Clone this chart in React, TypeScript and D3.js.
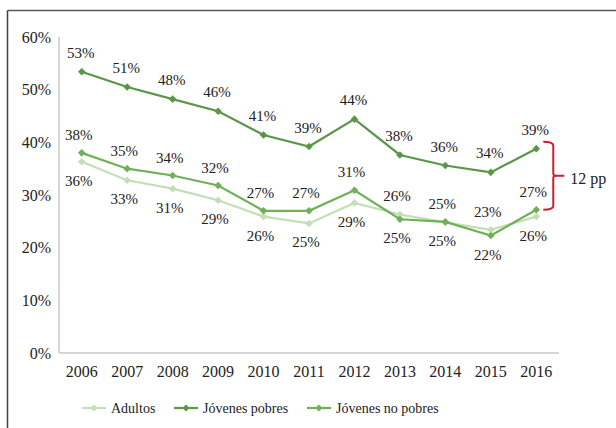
import React from "react";
import { scaleBand, scaleLinear, line } from "d3";

const years = ["2006", "2007", "2008", "2009", "2010", "2011", "2012", "2013", "2014", "2015", "2016"];
const adultos = [36.3, 32.8, 31.2, 29.0, 25.9, 24.6, 28.5, 26.3, 24.8, 23.4, 25.9];
const jovenesPobres = [53.4, 50.5, 48.2, 45.9, 41.4, 39.2, 44.4, 37.6, 35.6, 34.3, 38.8];
const jovenesNoPobres = [38.0, 35.0, 33.7, 31.8, 27.0, 27.0, 30.9, 25.4, 24.9, 22.3, 27.2];
const yTicks = [0, 10, 20, 30, 40, 50, 60];
const gapLabel = "12 pp";

const FONT = "'Liberation Serif', Tinos, 'Times New Roman', 'DejaVu Serif', serif";
const C_LIGHT = "#c3dfb6";
const C_DARK = "#5b9648";
const C_MID = "#70b158";

const series = [
  { name: "Adultos", values: adultos, color: C_LIGHT },
  { name: "Jóvenes pobres", values: jovenesPobres, color: C_DARK },
  { name: "Jóvenes no pobres", values: jovenesNoPobres, color: C_MID },
];

const W = 616;
const H = 428;
const margin = { left: 59, right: 57, top: 37, bottom: 75 };

const x = scaleBand<string>().domain(years).range([margin.left, W - margin.right]);
const y = scaleLinear().domain([0, 60]).range([H - margin.bottom, margin.top]);
const cx = (i: number) => (x(years[i]) ?? 0) + x.bandwidth() / 2;

const diamond = (px: number, py: number, r: number) =>
  `M${px},${py - r}L${px + r},${py}L${px},${py + r}L${px - r},${py}Z`;

export default function App() {
  const path = line<number>()
    .x((_, i) => cx(i))
    .y((d) => y(d));

  // labels for the two lower series: the higher one goes above, the lower one below
  const labelPos = (si: number, i: number) => {
    const v = series[si].values[i];
    if (si === 1) return { dx: -1, dy: -19 };
    const other = si === 0 ? jovenesNoPobres[i] : adultos[i];
    return v > other ? { dx: -3, dy: -18 } : { dx: -3, dy: 19 };
  };

  const last = years.length - 1;
  const bx = cx(last) + 17;
  const top = y(jovenesPobres[last]) - 7;
  const bot = y(jovenesNoPobres[last]);
  const mid = (top + bot) / 2;
  const brace = `M${bx - 10},${top}Q${bx},${top} ${bx},${top + 4}L${bx},${mid - 2}Q${bx},${mid} ${bx + 3},${mid}L${bx + 11},${mid}M${bx + 3},${mid}Q${bx},${mid} ${bx},${mid + 2}L${bx},${bot - 4}Q${bx},${bot} ${bx - 10},${bot}`;

  const legendX = [82, 174, 307];
  const legendY = 408;

  return (
    <svg width={W} height={H} style={{ position: "absolute", left: 0, top: 0, background: "#fff" }}>
      <g fontFamily={FONT}>
      {/* frame */}
      <line x1={7.5} y1={10.5} x2={W} y2={10.5} stroke="#595959" strokeWidth={1.5} />
      <line x1={7.5} y1={10.5} x2={7.5} y2={H} stroke="#404040" strokeWidth={1.5} />

      {/* axes */}
      <line x1={margin.left} y1={y(60)} x2={margin.left} y2={y(0)} stroke="#c8c8c8" strokeWidth={1.5} />
      <line x1={margin.left} y1={y(0)} x2={W - margin.right} y2={y(0)} stroke="#c8c8c8" strokeWidth={1.5} />
      {yTicks.map((t) => (
        <text key={t} x={51} y={y(t)} textAnchor="end" dominantBaseline="central" fontSize={16} fill="#222">
          {t}%
        </text>
      ))}
      {years.map((yr) => (
        <text key={yr} x={(x(yr) ?? 0) + x.bandwidth() / 2} y={371} textAnchor="middle" dominantBaseline="central" fontSize={16} fill="#222">
          {yr}
        </text>
      ))}

      {/* lines and markers */}
      {series.map((s) => (
        <g key={s.name}>
          <path d={path(s.values) ?? ""} fill="none" stroke={s.color} strokeWidth={2.2} />
          {s.values.map((v, i) => (
            <path key={i} d={diamond(cx(i), y(v), 3.8)} fill={s.color} />
          ))}
        </g>
      ))}

      {/* data labels */}
      {series.map((s, si) =>
        s.values.map((v, i) => {
          const p = labelPos(si, i);
          return (
            <text key={`${si}-${i}`} x={cx(i) + p.dx} y={y(v) + p.dy} textAnchor="middle" dominantBaseline="central" fontSize={15} fill="#222">
              {Math.round(v)}%
            </text>
          );
        })
      )}

      {/* gap brace */}
      <path d={brace} fill="none" stroke="#c8202f" strokeWidth={2} />
      <text x={bx + 17} y={mid + 3} dominantBaseline="central" fontSize={16} fill="#222">
        {gapLabel}
      </text>

      {/* legend */}
      {series.map((s, i) => (
        <g key={s.name} transform={`translate(${legendX[i]},${legendY})`}>
          <line x1={0} x2={24} y1={0} y2={0} stroke={s.color} strokeWidth={2.2} />
          <path d={diamond(12, 0, 3.5)} fill={s.color} />
          <text x={29} y={0} dominantBaseline="central" fontSize={14} fill="#222">
            {s.name}
          </text>
        </g>
      ))}
      </g>
    </svg>
  );
}
